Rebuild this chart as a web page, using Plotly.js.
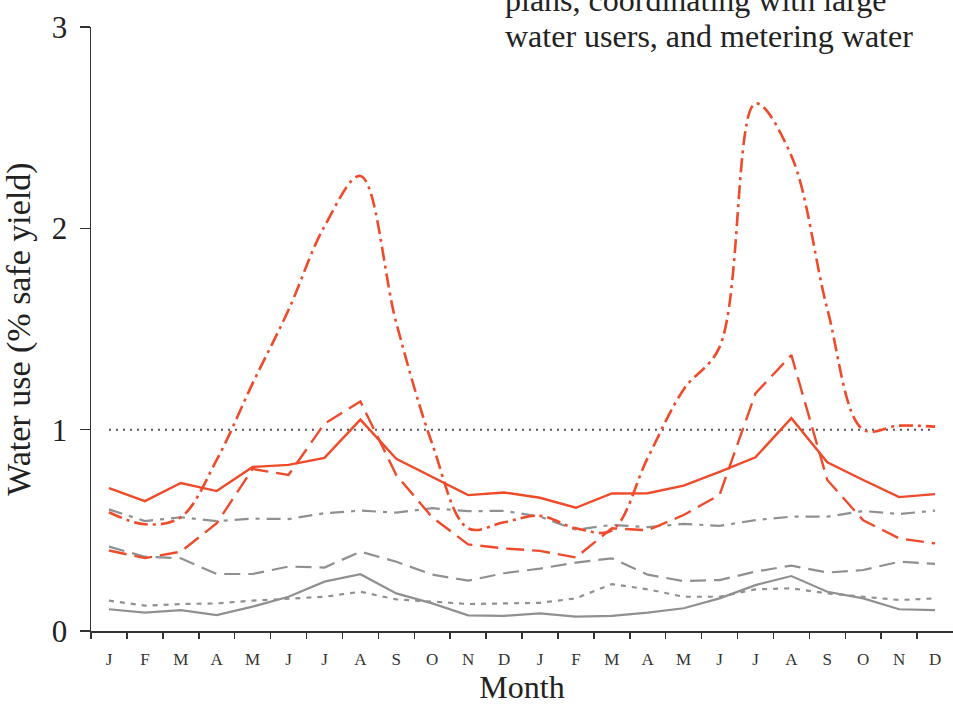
<!DOCTYPE html>
<html>
<head>
<meta charset="utf-8">
<script src="https://cdn.plot.ly/plotly-3.0.1.min.js"></script>
<style>html,body{margin:0;padding:0;background:#fff;}#chart{width:953px;height:705px;}</style>
</head>
<body>
<div id="chart"></div>
<script>
var months = ["J","F","M","A","M","J","J","A","S","O","N","D","J","F","M","A","M","J","J","A","S","O","N","D"];
var idx = months.map(function(_, i){ return i; });

var redSolid  = [0.71,0.645,0.735,0.695,0.815,0.825,0.86,1.05,0.855,0.765,0.675,0.688, 0.662,0.612,0.683,0.684,0.722,0.79,0.863,1.057,0.838,0.75,0.665,0.68];
var redDashed = [0.40,0.362,0.394,0.535,0.805,0.775,1.03,1.14,0.775,0.565,0.43,0.41, 0.398,0.365,0.51,0.50,0.576,0.676,1.18,1.37,0.75,0.55,0.46,0.435];
var redDashDot = [0.59,0.53,0.565,0.85,1.23,1.595,2.01,2.26,1.53,0.93,0.51,0.54, 0.572,0.51,0.50,0.86,1.2,1.41,2.62,2.36,1.6,1.0,1.02,1.015];
var grayDashDot = [0.604,0.546,0.565,0.546,0.558,0.556,0.585,0.598,0.588,0.61,0.595,0.597, 0.568,0.503,0.527,0.516,0.532,0.522,0.551,0.568,0.568,0.596,0.581,0.598];
var grayDashed = [0.419,0.369,0.361,0.283,0.283,0.32,0.315,0.394,0.344,0.28,0.25,0.287, 0.31,0.34,0.361,0.28,0.248,0.253,0.295,0.325,0.29,0.303,0.344,0.333];
var grayDotted = [0.151,0.126,0.134,0.137,0.151,0.16,0.17,0.195,0.157,0.146,0.134,0.137, 0.14,0.162,0.233,0.207,0.17,0.17,0.207,0.212,0.187,0.17,0.154,0.162];
var graySolid = [0.108,0.091,0.104,0.079,0.121,0.17,0.245,0.282,0.187,0.137,0.078,0.075, 0.088,0.071,0.075,0.091,0.113,0.162,0.228,0.273,0.195,0.162,0.108,0.104];
var safeYield = [1, 1];
var safeYieldX = [0, 23];
var noteLines = ["plans, coordinating with large", "water users, and metering water"];

var RED = "#EF4A2A";
var GRAY = "#8E9092";
var FONT = "Liberation Serif";

var traces = [
  {x: safeYieldX, y: safeYield, mode: "lines", line: {color: "#555555", width: 2, dash: "2px,5px"}},
  {x: idx, y: graySolid, mode: "lines", line: {color: GRAY, width: 2.2}},
  {x: idx, y: grayDotted, mode: "lines", line: {color: GRAY, width: 2.2, dash: "5px,6px"}},
  {x: idx, y: grayDashed, mode: "lines", line: {color: GRAY, width: 2.2, dash: "16px,8px"}},
  {x: idx, y: grayDashDot, mode: "lines", line: {color: GRAY, width: 2.2, dash: "14px,7px,4px,7px"}},
  {x: idx, y: redDashed, mode: "lines", line: {color: RED, width: 2.4, dash: "18px,8px"}},
  {x: idx, y: redDashDot, mode: "lines", line: {color: RED, width: 2.6, dash: "14px,5px,3px,5px", shape: "spline", smoothing: 1}},
  {x: idx, y: redSolid, mode: "lines", line: {color: RED, width: 2.4}},
  {x: idx, y: idx.map(function(){ return null; }), xaxis: "x2", mode: "lines", hoverinfo: "skip"}
];

var boundaries = [];
for (var i = 0; i < 24; i++) boundaries.push(i - 0.5);

var layout = {
  width: 953, height: 705,
  margin: {l: 91, r: 0, t: 27, b: 74},
  paper_bgcolor: "#ffffff", plot_bgcolor: "#ffffff",
  showlegend: false,
  font: {family: FONT, color: "#222222"},
  xaxis: {
    range: [-0.5, 23.5], tickmode: "array", tickvals: boundaries,
    showticklabels: false, ticks: "outside", ticklen: 6, tickwidth: 1.5, tickcolor: "#333333",
    showline: true, linecolor: "#333333", linewidth: 1.5, showgrid: false, zeroline: false,
    title: {text: "Month", font: {family: FONT, size: 32, color: "#222222"}, standoff: 40}
  },
  xaxis2: {
    overlaying: "x", side: "bottom", range: [-0.5, 23.5], tickmode: "array",
    tickvals: idx, ticktext: months, ticks: "", showline: false, showgrid: false, zeroline: false,
    tickfont: {family: FONT, size: 17, color: "#333333"}, ticklabelstandoff: 16
  },
  yaxis: {
    range: [0, 3], tickmode: "array", tickvals: [0, 1, 2, 3], ticktext: ["0", "1", "2", "3"],
    ticks: "outside", ticklen: 10, tickwidth: 1.5, tickcolor: "#333333",
    showline: true, linecolor: "#333333", linewidth: 1.5, showgrid: false, zeroline: false,
    tickfont: {family: FONT, size: 31, color: "#222222"}, ticklabelstandoff: 6,
    title: {text: "Water use (% safe yield)", font: {family: FONT, size: 34, color: "#222222"}, standoff: 12}
  },
  annotations: [
    {xref: "paper", yref: "paper", x: 0.4785, y: 1.045, xanchor: "left", yanchor: "middle", align: "left",
     showarrow: false, text: noteLines[0], font: {family: FONT, size: 32, color: "#222222"}},
    {xref: "paper", yref: "paper", x: 0.4785, y: 0.985, xanchor: "left", yanchor: "middle", align: "left",
     showarrow: false, text: noteLines[1], font: {family: FONT, size: 32, color: "#222222"}}
  ]
};

Plotly.newPlot("chart", traces, layout, {staticPlot: true, displayModeBar: false});
</script>
</body>
</html>
